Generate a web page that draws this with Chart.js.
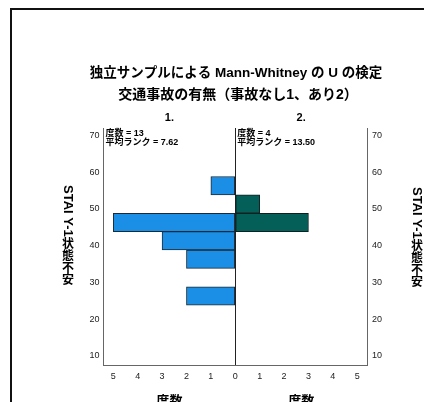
<!DOCTYPE html>
<html>
<head>
<meta charset="utf-8">
<script src="https://cdn.jsdelivr.net/npm/chart.js@4"></script>
<style>
  html, body { margin: 0; padding: 0; background: #fff; }
  #wrap { width: 424px; height: 402px; position: relative; }
</style>
</head>
<body>
<div id="wrap"><canvas id="chart" width="424" height="402"></canvas></div>
<script>
// bins (mid points of the STAI Y-1 classes) and counts per group
const binMid = [26.3, 31.3, 36.3, 41.3, 46.3, 51.3, 56.3];
const group1Counts = [2, 0, 2, 3, 5, 0, 1];
const group2Counts = [0, 0, 0, 0, 3, 1, 0];

const titleLines = ["独立サンプルによる Mann-Whitney の U の検定", "交通事故の有無（事故なし1、あり2）"];
const groupLabels = ["1.", "2."];
const groupN = [13, 4];
const meanRanks = ["7.62", "13.50"];
const yTitleLatin = "STAI Y-1";
const yTitleCjk = "状態不安";
const xTitle = "度数";

const FONT = '"Liberation Sans", "Noto Sans CJK JP", sans-serif';

// vertical title: latin part turned clockwise, kanji kept upright
function drawVertical(ctx, cx, top) {
    ctx.save();
    ctx.font = "bold 13px " + FONT;
    ctx.fillStyle = "#000";
    ctx.textBaseline = "middle";
    const w = ctx.measureText(yTitleLatin).width;
    ctx.save();
    ctx.translate(cx, top);
    ctx.rotate(Math.PI / 2);
    ctx.textAlign = "left";
    ctx.fillText(yTitleLatin, 0, 0);
    ctx.restore();
    ctx.font = "bold 12px " + FONT;
    ctx.textAlign = "center";
    [...yTitleCjk].forEach((ch, i) => {
        ctx.fillText(ch, cx, top + w + 2 + i * 12 + 6);
    });
    ctx.restore();
}

const overlay = {
    id: "overlay",
    beforeDraw(chart) {
        const ctx = chart.ctx;
        ctx.save();
        ctx.fillStyle = "#fff";
        ctx.fillRect(0, 0, chart.width, chart.height);
        ctx.fillStyle = "#111";
        ctx.fillRect(10, 8, chart.width - 10, 2);
        ctx.fillRect(10, 8, 2, chart.height - 8);
        ctx.restore();
    },
    afterDraw(chart) {
        const ctx = chart.ctx;
        const x = chart.scales.x;
        const a = chart.chartArea;
        ctx.save();
        ctx.fillStyle = "#000";
        ctx.textAlign = "center";
        ctx.textBaseline = "middle";

        // titles
        ctx.font = "bold 13.5px " + FONT;
        ctx.fillText(titleLines[0], 236, 73);
        ctx.font = "bold 14px " + FONT;
        ctx.fillText(titleLines[1], 238, 95);

        // group headers and x titles
        const centers = [x.getPixelForValue(-2.7), x.getPixelForValue(2.7)];
        ctx.font = "bold 11px " + FONT;
        ctx.fillText(groupLabels[0], centers[0], 118);
        ctx.fillText(groupLabels[1], centers[1], 118);
        ctx.font = "bold 13px " + FONT;
        ctx.textBaseline = "top";
        ctx.fillText(xTitle, centers[0], 395);
        ctx.fillText(xTitle, centers[1], 395);

        // group stats
        ctx.textAlign = "left";
        ctx.textBaseline = "middle";
        ctx.font = "bold 9px " + FONT;
        const zeroX = x.getPixelForValue(0);
        [a.left + 2, zeroX + 2].forEach((px, i) => {
            ctx.fillText("度数 = " + groupN[i], px, a.top + 6);
            ctx.fillText("平均ランク = " + meanRanks[i], px, a.top + 15);
        });
        ctx.restore();

        // vertical axis titles
        drawVertical(ctx, 68, 185);
        drawVertical(ctx, 417, 187);
    }
};

const tickFont = { family: FONT, size: 9 };

new Chart(document.getElementById("chart").getContext("2d"), {
    type: "bar",
    data: {
        datasets: [
            {
                label: groupLabels[0],
                data: binMid.map((y, i) => ({ x: -group1Counts[i], y: y })),
                backgroundColor: "#1b8fe6",
                borderColor: "#1d2a33",
                borderWidth: 1,
                borderSkipped: false
            },
            {
                label: groupLabels[1],
                data: binMid.map((y, i) => ({ x: group2Counts[i], y: y })),
                backgroundColor: "#035f58",
                borderColor: "#102020",
                borderWidth: 1,
                borderSkipped: false
            }
        ]
    },
    options: {
        indexAxis: "y",
        responsive: false,
        animation: false,
        grouped: false,
        categoryPercentage: 1,
        barPercentage: 1,
        layout: { padding: { top: 128, left: 0, right: 0, bottom: 0 } },
        plugins: {
            legend: { display: false },
            tooltip: { enabled: false }
        },
        scales: {
            x: {
                type: "linear",
                offset: false,
                min: -5.4,
                max: 5.4,
                ticks: {
                    stepSize: 1,
                    includeBounds: false,
                    padding: 6,
                    color: "#222",
                    font: tickFont,
                    callback: v => Math.abs(v)
                },
                grid: {
                    offset: false,
                    drawTicks: false,
                    color: c => (c.tick && c.tick.value === 0 ? "#222" : "rgba(0,0,0,0)")
                },
                border: { display: true, color: "#666" },
                afterFit: s => { s.height = 37; }
            },
            y: {
                type: "linear",
                position: "left",
                offset: false,
                min: 7.5,
                max: 72,
                ticks: {
                    stepSize: 10,
                    includeBounds: false,
                    padding: 4,
                    color: "#222",
                    font: tickFont
                },
                grid: { display: false, drawTicks: false, offset: false },
                border: { display: true, color: "#666" },
                afterFit: s => { s.width = 103.5; }
            },
            y2: {
                type: "linear",
                position: "right",
                offset: false,
                min: 7.5,
                max: 72,
                ticks: {
                    stepSize: 10,
                    includeBounds: false,
                    padding: 5,
                    color: "#222",
                    font: tickFont
                },
                grid: { display: false, drawTicks: false },
                border: { display: true, color: "#666" },
                afterFit: s => { s.width = 57; }
            }
        }
    },
    plugins: [overlay]
});
</script>
</body>
</html>
